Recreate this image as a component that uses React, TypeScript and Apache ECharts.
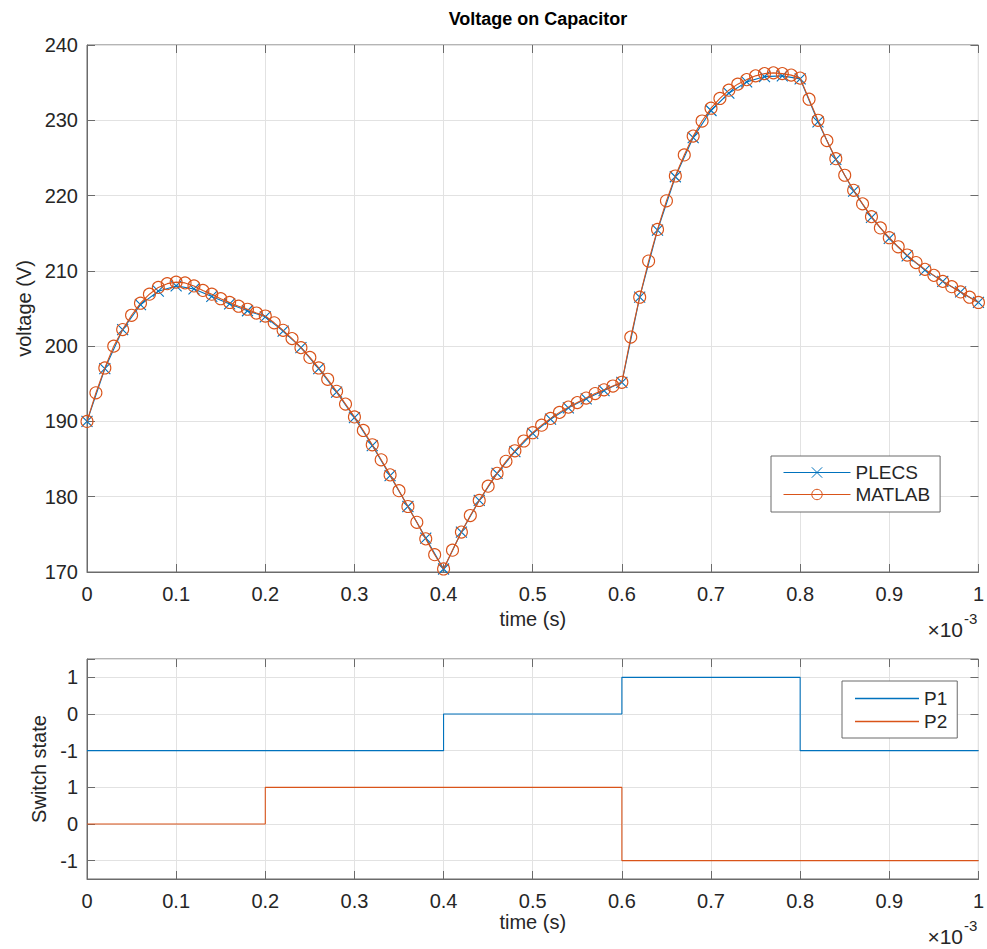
import React, { useEffect, useRef } from "react";
import * as echarts from "echarts";

// ---- Data ----
// MATLAB samples every 0.01 (x 1e-3 s)
const matlabVoltage = [
  190.0, 193.8, 197.1, 200.0, 202.2, 204.1, 205.7, 206.9, 207.8, 208.3,
  208.5, 208.4, 208.0, 207.4, 206.9, 206.3, 205.8, 205.3, 204.9, 204.4,
  204.0, 203.1, 202.1, 201.0, 199.8, 198.5, 197.1, 195.6, 194.0, 192.3,
  190.6, 188.8, 186.9, 184.9, 182.9, 180.8, 178.7, 176.6, 174.4, 172.3,
  170.4, 172.9, 175.3, 177.5, 179.5, 181.4, 183.1, 184.7, 186.1, 187.4,
  188.5, 189.5, 190.4, 191.2, 191.9, 192.5, 193.1, 193.7, 194.2, 194.7,
  195.2, 201.2, 206.5, 211.3, 215.5, 219.3, 222.6, 225.4, 227.9, 229.9,
  231.6, 232.9, 234.0, 234.8, 235.4, 235.9, 236.2, 236.3, 236.2, 236.0,
  235.6, 232.8, 230.0, 227.3, 224.9, 222.7, 220.7, 218.9, 217.2, 215.7,
  214.4, 213.2, 212.1, 211.1, 210.2, 209.4, 208.6, 207.9, 207.2, 206.5,
  205.8,
];
const matlabStep = 0.01;

// PLECS samples every 0.02 (x 1e-3 s)
const plecsVoltage = [
  190.0, 197.0, 202.2, 205.5, 207.3, 208.0, 207.6, 206.6, 205.6, 204.7,
  203.9, 202.0, 199.8, 197.0, 193.9, 190.5, 186.8, 182.8, 178.7, 174.5,
  170.4, 175.3, 179.5, 183.1, 186.0, 188.4, 190.3, 191.8, 193.0, 194.1,
  195.2, 206.5, 215.4, 222.5, 227.7, 231.3, 233.6, 235.1, 235.8, 235.9,
  235.5, 229.8, 224.8, 220.6, 217.1, 214.3, 212.0, 210.1, 208.6, 207.2,
  205.8,
];
const plecsStep = 0.02;

// Switch states (step functions)
const p1Times = [0, 0.4, 0.6, 0.8, 1.0];
const p1States = [-1, 0, 1, -1, -1];
const p2Times = [0, 0.2, 0.6, 1.0];
const p2States = [0, 1, -1, -1];
const p1Offset = 3; // P1 drawn in the upper band of the shared axis

const BLUE = "#0072BD";
const ORANGE = "#D95319";
const AXIS = "#6b6b6b";
const TEXT = "#262626";
const GRID = "#e2e2e2";
const FONT = '"Liberation Sans", Arial, Helvetica, sans-serif';

const fmtX = (v: number) => String(+v.toFixed(2));

function bottomX(gridIndex: number) {
  return {
    type: "value",
    gridIndex,
    position: "bottom",
    min: 0,
    max: 1,
    interval: 0.1,
    name: "time (s)",
    nameLocation: "middle",
    nameGap: 32,
    nameTextStyle: { fontSize: 20, color: TEXT, fontFamily: FONT },
    axisLine: { show: true, onZero: false, lineStyle: { color: AXIS, width: 1 } },
    axisTick: { show: true, inside: true, length: 8, lineStyle: { color: AXIS } },
    axisLabel: { margin: 12, fontSize: 20, color: TEXT, fontFamily: FONT, formatter: fmtX },
    splitLine: { show: true, lineStyle: { color: GRID, width: 1 } },
  };
}
function topX(gridIndex: number) {
  return {
    type: "value",
    gridIndex,
    position: "top",
    min: 0,
    max: 1,
    interval: 0.1,
    axisLine: { show: false, onZero: false },
    axisTick: { show: true, inside: true, length: 8, lineStyle: { color: AXIS } },
    axisLabel: { show: false },
    splitLine: { show: false },
  };
}

export default function App() {
  const ref = useRef<HTMLDivElement>(null);

  useEffect(() => {
    document.body.style.margin = "0";
    if (!ref.current) return;
    const chart = echarts.init(ref.current, undefined, { renderer: "svg" });

    const matlabData = matlabVoltage.map((v, i) => [+(i * matlabStep).toFixed(2), v]);
    const plecsData = plecsVoltage.map((v, i) => [+(i * plecsStep).toFixed(2), v]);
    const p1Data = p1Times.map((t, i) => [t, p1States[i] + p1Offset]);
    const p2Data = p2Times.map((t, i) => [t, p2States[i]]);

    const option: any = {
      animation: false,
      backgroundColor: "#ffffff",
      textStyle: { fontFamily: FONT },
      title: {
        text: "Voltage on Capacitor",
        left: 533,
        top: 5,
        textAlign: "center",
        textStyle: { fontSize: 18, fontWeight: "bold", color: "#000", fontFamily: FONT },
      },
      grid: [
        { left: 87, right: 7, top: 45, height: 527, show: true, borderColor: AXIS, borderWidth: 1, backgroundColor: "#fff" },
        { left: 87, right: 7, top: 659, height: 220, show: true, borderColor: AXIS, borderWidth: 1, backgroundColor: "#fff" },
      ],
      xAxis: [bottomX(0), topX(0), bottomX(1), topX(1)],
      yAxis: [
        {
          type: "value",
          gridIndex: 0,
          position: "left",
          min: 170,
          max: 240,
          interval: 10,
          name: "voltage (V)",
          nameLocation: "middle",
          nameGap: 50,
          nameTextStyle: { fontSize: 20, color: TEXT, fontFamily: FONT },
          axisLine: { show: true, onZero: false, lineStyle: { color: AXIS } },
          axisTick: { show: true, inside: true, length: 8, lineStyle: { color: AXIS } },
          axisLabel: { margin: 9, fontSize: 20, color: TEXT, fontFamily: FONT },
          splitLine: { show: true, lineStyle: { color: GRID } },
        },
        {
          type: "value",
          gridIndex: 0,
          position: "right",
          min: 170,
          max: 240,
          interval: 10,
          axisLine: { show: false, onZero: false },
          axisTick: { show: true, inside: true, length: 8, lineStyle: { color: AXIS } },
          axisLabel: { show: false },
          splitLine: { show: false },
        },
        {
          type: "value",
          gridIndex: 1,
          position: "left",
          min: -1.5,
          max: 4.5,
          splitNumber: 6,
          name: "Switch state",
          nameLocation: "middle",
          nameGap: 38,
          nameTextStyle: { fontSize: 20, color: TEXT, fontFamily: FONT },
          axisLine: { show: true, onZero: false, lineStyle: { color: AXIS } },
          axisTick: { show: true, inside: true, length: 8, lineStyle: { color: AXIS } },
          axisLabel: {
            margin: 9,
            fontSize: 20,
            color: TEXT,
            fontFamily: FONT,
            formatter: (v: number) => {
              if (Math.abs(v - Math.round(v)) > 1e-6) return "";
              const r = Math.round(v);
              if (r < -1 || r > 4) return "";
              return String(r >= 2 ? r - p1Offset : r);
            },
          },
          splitLine: { show: true, lineStyle: { color: GRID } },
        },
        {
          type: "value",
          gridIndex: 1,
          position: "right",
          min: -1.5,
          max: 4.5,
          splitNumber: 6,
          axisLine: { show: false, onZero: false },
          axisTick: { show: true, inside: true, length: 8, lineStyle: { color: AXIS } },
          axisLabel: { show: false },
          splitLine: { show: false },
        },
      ],
      legend: [
        {
          data: ["PLECS", "MATLAB"],
          orient: "vertical",
          left: 771,
          top: 456,
          padding: [7, 10, 8, 12],
          itemWidth: 67,
          itemHeight: 13,
          itemGap: 3,
          backgroundColor: "#fff",
          borderColor: AXIS,
          borderWidth: 1,
          borderRadius: 0,
          lineStyle: { width: 1 },
          itemStyle: { borderWidth: 1 },
          textStyle: { fontSize: 19, color: TEXT, fontFamily: FONT, lineHeight: 19 },
        },
        {
          data: [
            { name: "P1", icon: "rect" },
            { name: "P2", icon: "rect" },
          ],
          orient: "vertical",
          left: 842,
          top: 681,
          padding: [8, 10, 7, 13],
          itemWidth: 64,
          itemHeight: 1.5,
          itemGap: 4,
          backgroundColor: "#fff",
          borderColor: AXIS,
          borderWidth: 1,
          borderRadius: 0,
          textStyle: { fontSize: 19, color: TEXT, fontFamily: FONT, lineHeight: 19 },
        },
      ],
      series: [
        {
          name: "PLECS",
          type: "line",
          xAxisIndex: 0,
          yAxisIndex: 0,
          data: plecsData,
          symbol: "path://M0,0L10,10M10,0L0,10",
          symbolSize: 11,
          showSymbol: true,
          color: BLUE,
          lineStyle: { color: BLUE, width: 1.1 },
          itemStyle: { color: BLUE, borderColor: BLUE, borderWidth: 1.1 },
          z: 2,
        },
        {
          name: "MATLAB",
          type: "line",
          xAxisIndex: 0,
          yAxisIndex: 0,
          data: matlabData,
          symbol: "circle",
          symbolSize: 12,
          showSymbol: true,
          color: ORANGE,
          lineStyle: { color: ORANGE, width: 1.1 },
          itemStyle: { color: "rgba(0,0,0,0)", borderColor: ORANGE, borderWidth: 1.1 },
          z: 3,
        },
        {
          name: "P1",
          type: "line",
          xAxisIndex: 2,
          yAxisIndex: 2,
          step: "end",
          data: p1Data,
          symbol: "none",
          color: BLUE,
          lineStyle: { color: BLUE, width: 1.1 },
        },
        {
          name: "P2",
          type: "line",
          xAxisIndex: 2,
          yAxisIndex: 2,
          step: "end",
          data: p2Data,
          symbol: "none",
          color: ORANGE,
          lineStyle: { color: ORANGE, width: 1.1 },
        },
      ],
      graphic: [
        { type: "text", x: 963, y: 629, style: { text: "×10", fontSize: 21, fill: TEXT, fontFamily: FONT, align: "right", verticalAlign: "middle" } },
        { type: "text", x: 964, y: 618, style: { text: "-3", fontSize: 15, fill: TEXT, fontFamily: FONT, align: "left", verticalAlign: "middle" } },
        { type: "text", x: 963, y: 936, style: { text: "×10", fontSize: 21, fill: TEXT, fontFamily: FONT, align: "right", verticalAlign: "middle" } },
        { type: "text", x: 964, y: 925, style: { text: "-3", fontSize: 15, fill: TEXT, fontFamily: FONT, align: "left", verticalAlign: "middle" } },
      ],
    };

    chart.setOption(option);
    return () => chart.dispose();
  }, []);

  return <div ref={ref} style={{ width: 987, height: 949 }} />;
}
